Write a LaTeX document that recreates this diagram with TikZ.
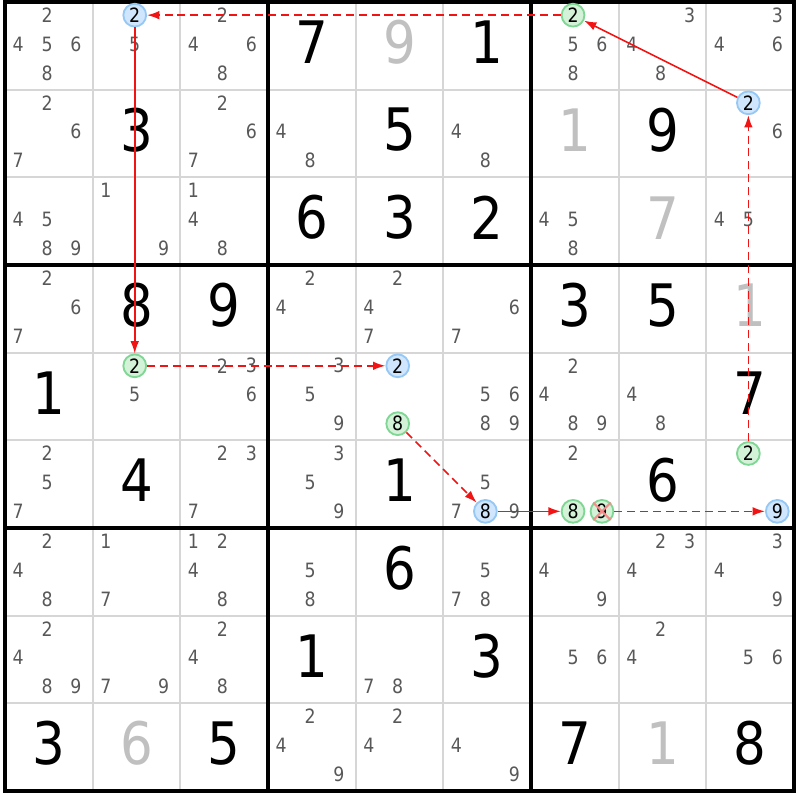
\documentclass[tikz,border=0pt]{standalone}
\usepackage{fontspec}
\setmainfont{DejaVu Sans}[FakeStretch=0.88]
\usetikzlibrary{arrows.meta}
\definecolor{candgray}{RGB}{88,88,88}
\definecolor{solvedgray}{RGB}{192,192,192}
\definecolor{gridgray}{RGB}{214,214,214}
\definecolor{bluefill}{RGB}{208,230,252}
\definecolor{blueline}{RGB}{150,200,246}
\definecolor{greenfill}{RGB}{212,242,216}
\definecolor{greenline}{RGB}{128,214,148}
\definecolor{linkred}{RGB}{240,20,20}
\definecolor{crosspink}{RGB}{245,140,140}
\tikzset{
  given/.style={font=\fontsize{19}{19}\selectfont, inner sep=0pt},
  solved/.style={given, text=solvedgray},
  cand/.style={font=\fontsize{6.4}{6.4}\selectfont, text=candgray, inner sep=0pt},
  spot/.style n args={3}{at={({#2-0.85+0.33*mod(#3-1,3)},{#1-0.85+0.33*div(#3-1,3)})}},
  bluemark/.style={circle, draw=blueline, fill=bluefill, line width=0.6pt,
    minimum size=0.26cm, text=black},
  greenmark/.style={circle, draw=greenline, fill=greenfill, line width=0.6pt,
    minimum size=0.26cm, text=black},
}

\begin{document}
\begin{tikzpicture}[x=1cm,y=-1cm]
  \useasboundingbox (-0.057,-0.023) rectangle (9.068,9.103);
  % cell lines
  \begin{scope}[draw=gridgray, line width=0.65pt]
    \foreach \i in {1,2,4,5,7,8} {
      \draw (\i,0) -- (\i,9);
      \draw (0,\i) -- (9,\i);
    }
  \end{scope}
  % box lines
  \begin{scope}[line width=1.1pt]
    \foreach \i in {3,6} {
      \draw (\i,0) -- (\i,9);
      \draw (0,\i) -- (9,\i);
    }
    \draw (0,0) rectangle (9,9);
  \end{scope}
  % digits
  \foreach \r/\c/\d in {1/4/7, 1/6/1, 2/2/3, 2/5/5, 2/8/9, 3/4/6, 3/5/3, 3/6/2,
      4/2/8, 4/3/9, 4/7/3, 4/8/5, 5/1/1, 5/9/7, 6/2/4, 6/5/1, 6/8/6, 7/5/6,
      8/4/1, 8/6/3, 9/1/3, 9/3/5, 9/7/7, 9/9/8}
    \node[given] (g\r\c) at (\c-0.5,\r-0.54) {\d};
  \foreach \r/\c/\d in {1/5/9, 2/7/1, 3/8/7, 4/9/1, 9/2/6, 9/8/1}
    \node[solved] (s\r\c) at (\c-0.5,\r-0.54) {\d};
  % candidates
  \foreach \r/\c/\l in {1/1/{2,4,5,6,8}, 1/2/{5}, 1/3/{2,4,6,8}, 1/7/{5,6,8},
      1/8/{3,4,8}, 1/9/{3,4,6}, 2/1/{2,6,7}, 2/3/{2,6,7}, 2/4/{4,8}, 2/6/{4,8},
      2/9/{6}, 3/1/{4,5,8,9}, 3/2/{1,9}, 3/3/{1,4,8}, 3/7/{4,5,8}, 3/9/{4,5},
      4/1/{2,6,7}, 4/4/{2,4}, 4/5/{2,4,7}, 4/6/{6,7}, 5/2/{5}, 5/3/{2,3,6},
      5/4/{3,5,9}, 5/6/{5,6,8,9}, 5/7/{2,4,8,9}, 5/8/{4,8}, 6/1/{2,5,7},
      6/3/{2,3,7}, 6/4/{3,5,9}, 6/6/{5,7,9}, 6/7/{2}, 7/1/{2,4,8}, 7/2/{1,7},
      7/3/{1,2,4,8}, 7/4/{5,8}, 7/6/{5,7,8}, 7/7/{4,9}, 7/8/{2,3,4},
      7/9/{3,4,9}, 8/1/{2,4,8,9}, 8/2/{7,9}, 8/3/{2,4,8}, 8/5/{7,8},
      8/7/{5,6}, 8/8/{2,4}, 8/9/{5,6}, 9/4/{2,4,9}, 9/5/{2,4}, 9/6/{4,9}}
    \foreach \d in \l
      \node[cand, spot={\r}{\c}{\d}] {\d};
  % chain candidates
  \node[cand, bluemark,  spot={1}{2}{2}] (r1c2d2) {2};
  \node[cand, bluemark,  spot={2}{9}{2}] (r2c9d2) {2};
  \node[cand, bluemark,  spot={5}{5}{2}] (r5c5d2) {2};
  \node[cand, bluemark,  spot={6}{6}{8}] (r6c6d8) {8};
  \node[cand, bluemark,  spot={6}{9}{9}] (r6c9d9) {9};
  \node[cand, greenmark, spot={1}{7}{2}] (r1c7d2) {2};
  \node[cand, greenmark, spot={5}{2}{2}] (r5c2d2) {2};
  \node[cand, greenmark, spot={5}{5}{8}] (r5c5d8) {8};
  \node[cand, greenmark, spot={6}{7}{8}] (r6c7d8) {8};
  \node[cand, greenmark, spot={6}{7}{9}] (r6c7d9) {9};
  \node[cand, greenmark, spot={6}{9}{2}] (r6c9d2) {2};
  % eliminated
  \draw[crosspink, line width=0.7pt]
    (r6c7d9.north west) -- (r6c7d9.south east)
    (r6c7d9.north east) -- (r6c7d9.south west);
  % links
  \begin{scope}[
    every edge/.style={draw=linkred,-{Latex[length=4pt,width=2.8pt]},line width=0.5pt},
    weaklink/.style={dash pattern=on 2.6pt off 1.6pt},
    ]
    \path
    (r1c7d2) edge[weaklink] (r1c2d2)
    (r1c2d2) edge           (r5c2d2)
    (r5c2d2) edge[weaklink] (r5c5d2)
    (r5c5d8) edge[weaklink] (r6c6d8)
    (r6c6d8) edge           (r6c7d8)
    (r6c7d9) edge[weaklink] (r6c9d9)
    (r6c9d2) edge[weaklink] (r2c9d2)
    (r2c9d2) edge           (r1c7d2);
  \end{scope}
\end{tikzpicture}
\end{document}
